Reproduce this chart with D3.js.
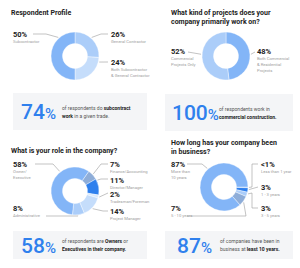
<!DOCTYPE html>
<html>
<head>
<meta charset="utf-8">
<script src="https://cdn.jsdelivr.net/npm/d3@7"></script>
<style>
  body { margin: 0; background: #fff; }
  svg { display: block; font-family: Roboto, "Noto Sans", sans-serif; }
</style>
</head>
<body>
<svg id="chart" width="300" height="268"></svg>
<script>
// ---- data ----
const profileNames = ["General Contractor", "Both Subcontractor & General Contractor", "Subcontractor"];
const profileValues = [26, 24, 50];

const projectNames = ["Both Commercial & Residential Projects", "Commercial Projects Only"];
const projectValues = [48, 52];

const roleNames = ["Finance/Accounting", "Director/Manager", "Tradesman/Foreman", "Project Manager", "Administrative", "Owner/Executive"];
const roleValues = [7, 11, 2, 14, 8, 58];

const ageNames = ["Less than 1 year", "1 - 3 years", "3 - 5 years", "5 - 10 years", "More than 10 years"];
const ageValues = [0.5, 3, 3, 7, 87];
const ageText = ["<1%", "3%", "3%", "7%", "87%"];

const calloutValues = [74, 100, 58, 87];

// ---- colours ----
const cMid = "#83b5f7", cLight = "#abcdf9", cLighter = "#c5ddfb",
      cBright = "#2f80ed", cGray = "#8eadd8", cPale = "#d9e9fd";
const blue = "#2f80ed";

const svg = d3.select("#chart");
const rOuter = 24, rInner = 12.5;
const arc = d3.arc().innerRadius(rInner).outerRadius(rOuter);

function rad(deg) { return deg * Math.PI / 180; }

function drawDonut(cx, cy, values, colors, startDeg, labels) {
  const pie = d3.pie().sort(null).startAngle(rad(startDeg)).endAngle(rad(startDeg + 360));
  const g = svg.append("g").attr("transform", `translate(${cx},${cy})`);
  g.selectAll("path")
    .data(pie(values))
    .enter().append("path")
    .attr("d", arc)
    .attr("fill", (d, i) => colors[i])
    .attr("stroke", "#fff")
    .attr("stroke-width", 0.4);

  labels.forEach(l => {
    // leader line: starts on the ring, then follows the elbows
    const a = rad(l.angle);
    const start = [cx + (rOuter + 1) * Math.sin(a), cy - (rOuter + 1) * Math.cos(a)];
    svg.append("path")
      .attr("d", d3.line()([start, ...l.pts]))
      .attr("fill", "none")
      .attr("stroke", "#9a9a9a")
      .attr("stroke-width", 0.6);

    svg.append("text")
      .attr("x", l.x).attr("y", l.y)
      .attr("font-size", 7.5).attr("font-weight", 700)
      .attr("fill", "#222")
      .text(l.pct);
    l.sub.forEach((s, k) => {
      svg.append("text")
        .attr("x", l.x).attr("y", l.y + 6 + k * 6.2)
        .attr("font-size", 4.2)
        .attr("fill", "#a0a0a0")
        .text(s);
    });
  });
}

function title(x, y, lines) {
  lines.forEach((t, k) => {
    svg.append("text")
      .attr("x", x).attr("y", y + k * 9)
      .attr("font-size", 7).attr("font-weight", 700)
      .attr("fill", "#222")
      .text(t);
  });
}

function callout(x, y, w, h, value, numX, textX, lines) {
  svg.append("rect")
    .attr("x", x).attr("y", y).attr("width", w).attr("height", h)
    .attr("fill", "#f4f5f7");
  const cy = y + h / 2;
  const num = svg.append("text")
    .attr("x", numX).attr("y", cy + 7.5)
    .attr("fill", blue).attr("font-weight", 500);
  num.append("tspan").attr("font-size", 21).text(value);
  num.append("tspan").attr("font-size", 15).text("%");

  lines.forEach((parts, k) => {
    const t = svg.append("text")
      .attr("x", textX).attr("y", cy - 2 + k * 8)
      .attr("font-size", 5).attr("fill", "#555");
    parts.forEach(p => {
      t.append("tspan")
        .attr("font-weight", p.b ? 700 : 400)
        .attr("fill", p.b ? "#222" : "#555")
        .text(p.t);
    });
  });
}

// ---- panel 1: Respondent Profile ----
title(11, 15, ["Respondent Profile"]);
drawDonut(75, 56, profileValues, [cLight, cLighter, cMid], 0, [
  { pct: profileValues[2] + "%", sub: [profileNames[2]], x: 13, y: 37,
    angle: 318, pts: [[46, 34], [33, 34]] },
  { pct: profileValues[0] + "%", sub: [profileNames[0]], x: 111, y: 37,
    angle: 42, pts: [[101, 34], [108, 34]] },
  { pct: profileValues[1] + "%", sub: ["Both Subcontractor", "& General Contractor"], x: 111, y: 65,
    angle: 104, pts: [[108, 62]] }
]);
callout(13, 93, 134, 37, calloutValues[0], 21, 62, [
  [{ t: "of respondents do " }, { t: "subcontract", b: true }],
  [{ t: "work", b: true }, { t: " in a given trade." }]
]);

// ---- panel 2: project type ----
title(171, 15, ["What kind of projects does your", "company primarily work on?"]);
drawDonut(226, 56, projectValues, [cMid, cLight], 0, [
  { pct: projectValues[1] + "%", sub: ["Commercial", "Projects Only"], x: 171, y: 54,
    angle: 274, pts: [[188, 52]] },
  { pct: projectValues[0] + "%", sub: ["Both Commercial", "& Residential", "Projects"], x: 257, y: 54,
    angle: 86, pts: [[255, 52]] }
]);
callout(165, 94, 128, 37, calloutValues[1], 172, 219, [
  [{ t: "of respondents work in" }],
  [{ t: "commercial construction.", b: true }]
]);

// ---- panel 3: role ----
title(11, 153, ["What is your role in the company?"]);
drawDonut(75, 191, roleValues, [cGray, cBright, cPale, cLighter, cLight, cMid], 35, [
  { pct: roleValues[5] + "%", sub: ["Owner/", "Executive"], x: 13, y: 167,
    angle: 322, pts: [[53, 164], [35, 164]] },
  { pct: roleValues[0] + "%", sub: [roleNames[0]], x: 110, y: 167,
    angle: 47, pts: [[101, 164], [108, 164]] },
  { pct: roleValues[1] + "%", sub: [roleNames[1]], x: 110, y: 183,
    angle: 64, pts: [[101, 179], [108, 179]] },
  { pct: roleValues[2] + "%", sub: [roleNames[2]], x: 110, y: 197,
    angle: 104, pts: [[108, 193]] },
  { pct: roleValues[3] + "%", sub: [roleNames[3]], x: 110, y: 214,
    angle: 135, pts: [[103, 211], [108, 211]] },
  { pct: roleValues[4] + "%", sub: [roleNames[4]], x: 13, y: 211,
    angle: 173, pts: [[78, 216], [46, 216]] }
]);
callout(13, 231, 134, 28, calloutValues[2], 21, 62, [
  [{ t: "of respondents are " }, { t: "Owners", b: true }, { t: " or" }],
  [{ t: "Executives in their company.", b: true }]
]);

// ---- panel 4: years in business ----
title(171, 145, ["How long has your company been", "in business?"]);
drawDonut(224, 187, ageValues, [cPale, cBright, cLight, cGray, cMid], 90, [
  { pct: ageText[4], sub: ["More than", "10 years"], x: 171, y: 167,
    angle: 318, pts: [[202, 164], [187, 164]] },
  { pct: ageText[0], sub: [ageNames[0]], x: 261, y: 167,
    angle: 91, pts: [[252, 187], [252, 164], [258, 164]] },
  { pct: ageText[1], sub: [ageNames[1]], x: 261, y: 190,
    angle: 96, pts: [[258, 187]] },
  { pct: ageText[2], sub: [ageNames[2]], x: 261, y: 211,
    angle: 106, pts: [[252, 193], [252, 208], [258, 208]] },
  { pct: ageText[3], sub: [ageNames[3]], x: 171, y: 211,
    angle: 128, pts: [[246, 216], [187, 216]] }
]);
callout(165, 231, 128, 28, calloutValues[3], 177, 220, [
  [{ t: "of companies have been in" }],
  [{ t: "business at " }, { t: "least 10 years.", b: true }]
]);
</script>
</body>
</html>
